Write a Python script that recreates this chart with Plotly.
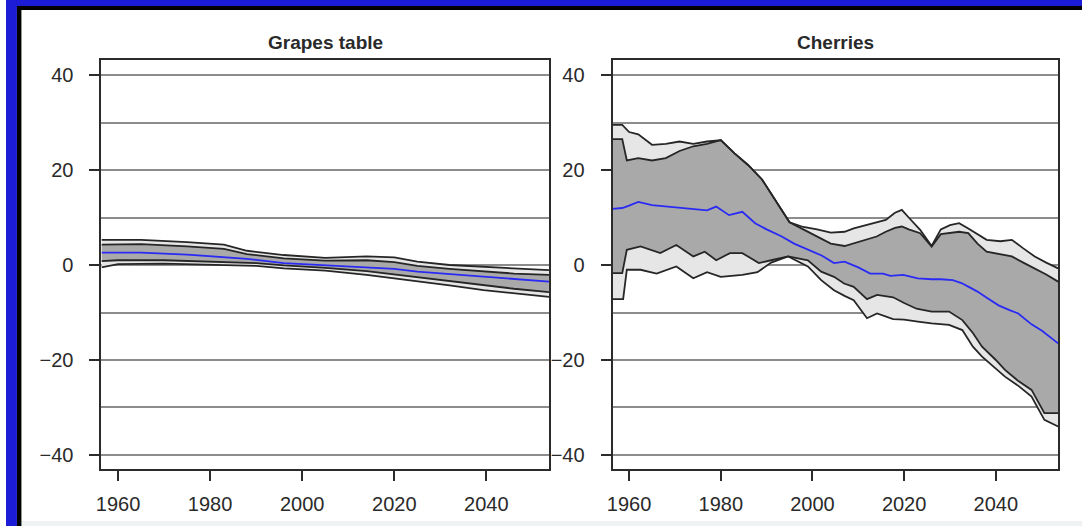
import plotly.graph_objects as go

W, H = 1082, 526

# ---------------- data ----------------
year_ticks = [1960, 1980, 2000, 2020, 2040]
value_ticks = [-40, -20, 0, 20, 40]
panel_titles = ["Grapes table", "Cherries"]

# Grapes table
g_ou_x = [1956.4, 1965, 1975, 1983, 1988, 1996, 2005, 2014, 2020, 2025, 2032, 2039.4, 2046, 2053.6]
g_ou_y = [5.3, 5.3, 4.8, 4.3, 3.0, 2.1, 1.5, 1.8, 1.6, 0.7, 0.0, -0.4, -0.8, -1.1]
g_iu_x = [1956.4, 1965, 1975, 1983, 1988, 1996, 2005, 2014, 2020, 2025, 2032, 2039.4, 2046, 2053.6]
g_iu_y = [4.3, 4.4, 3.9, 3.4, 2.3, 1.4, 0.9, 1.0, 0.6, -0.2, -0.8, -1.3, -1.8, -2.1]
g_c_x = [1956.4, 1965, 1975, 1982, 1988, 1996, 2005, 2014, 2020, 2025, 2032, 2039.4, 2046, 2053.6]
g_c_y = [2.6, 2.6, 2.2, 1.8, 1.3, 0.4, 0.0, -0.4, -0.8, -1.4, -1.9, -2.5, -3.0, -3.5]
g_il_x = [1956.4, 1960, 1970, 1982, 1990, 1996, 2005, 2014, 2020, 2025, 2032, 2039.4, 2046, 2053.6]
g_il_y = [0.8, 1.0, 1.0, 0.7, 0.4, -0.1, -0.6, -1.3, -2.0, -2.6, -3.4, -4.3, -5.0, -5.7]
g_ol_x = [1956.4, 1960, 1970, 1982, 1990, 1996, 2005, 2014, 2020, 2025, 2032, 2039.4, 2046, 2053.6]
g_ol_y = [-0.5, 0.2, 0.3, 0.0, -0.2, -0.7, -1.2, -2.1, -2.8, -3.5, -4.3, -5.3, -6.0, -6.7]

# Cherries
c_ou_x = [1956.4, 1958.5, 1960, 1962, 1965, 1968, 1971, 1974, 1977, 1980, 1983, 1986, 1989, 1992,
          1995, 1998, 2001, 2004, 2007, 2009, 2012, 2014, 2016, 2018, 2019.5, 2021, 2023.5, 2026,
          2028, 2030, 2032, 2034, 2036, 2038, 2041, 2043.5, 2046, 2048.5, 2051, 2053.6]
c_ou_y = [29.5, 29.5, 28.0, 27.5, 25.3, 25.5, 26.0, 25.5, 26.0, 26.3, 23.5, 21.0, 18.0, 13.5,
          9.0, 8.0, 7.5, 6.8, 7.0, 7.7, 8.5, 9.0, 9.5, 11.0, 11.6, 10.0, 7.4, 4.0,
          7.5, 8.4, 8.8, 7.7, 6.5, 5.3, 5.0, 5.3, 3.5, 1.8, 0.5, -0.7]
c_iu_x = [1956.4, 1958.5, 1959.5, 1962, 1965, 1968, 1971, 1974, 1977, 1980, 1983, 1986, 1989, 1992,
          1995, 1998, 2001, 2004, 2007, 2009, 2012, 2014, 2016, 2018, 2019.5, 2021, 2023.5, 2026,
          2028, 2030, 2032, 2034, 2036, 2038, 2041, 2043.5, 2046, 2048.5, 2051, 2053.6]
c_iu_y = [26.5, 26.5, 22.0, 22.5, 22.0, 22.5, 24.0, 25.0, 25.5, 26.3, 23.5, 21.0, 18.0, 13.5,
          9.0, 7.5, 6.0, 4.5, 4.0, 4.6, 5.5, 6.0, 7.0, 7.8, 8.1, 7.5, 6.7, 3.9,
          6.5, 6.7, 7.0, 6.7, 4.5, 2.8, 2.2, 1.8, 0.5, -0.7, -2.0, -3.5]
c_c_x = [1956.4, 1958.5, 1960, 1962, 1965, 1968, 1971, 1974, 1977, 1979, 1981.8, 1984.7, 1987.5, 1990,
         1993.3, 1996, 1999, 2002, 2004.7, 2007, 2010, 2012.6, 2015.4, 2017, 2019.8, 2023, 2026, 2028,
         2030.6, 2032.5, 2034.1, 2036, 2037.7, 2040.6, 2043, 2044.9, 2047.8, 2050, 2053.6]
c_c_y = [11.8, 12.0, 12.5, 13.3, 12.6, 12.3, 12.0, 11.8, 11.5, 12.3, 10.5, 11.2, 8.8, 7.5,
         6.0, 4.5, 3.2, 2.0, 0.4, 0.7, -0.5, -1.8, -1.8, -2.3, -2.1, -2.8, -3.0, -3.0,
         -3.2, -3.8, -4.6, -5.6, -6.7, -8.5, -9.5, -10.2, -12.5, -13.8, -16.5]
c_il_x = [1956.4, 1958.5, 1959.5, 1962.5, 1966.8, 1970.3, 1974, 1976.5, 1979, 1982, 1984.7, 1988.3,
          1991, 1994.7, 1999, 2001.9, 2004.7, 2006.9, 2009, 2011.9, 2014.1, 2017.6, 2020, 2022.7,
          2026, 2029.8, 2032.7, 2035, 2037, 2040, 2042, 2045, 2047.8, 2050.6, 2053.6]
c_il_y = [-1.7, -1.7, 3.2, 3.9, 2.5, 4.2, 1.8, 2.8, 1.0, 2.5, 2.5, 0.4,
          1.0, 1.8, 1.0, -1.4, -2.5, -3.9, -4.6, -7.2, -6.3, -6.8, -8.0, -9.2,
          -9.8, -9.8, -11.6, -14.3, -17.2, -20.0, -22.1, -24.5, -26.3, -31.2, -31.2]
c_ol_x = [1956.4, 1958.7, 1959.5, 1962.5, 1966, 1970.3, 1974, 1977, 1980, 1984.7, 1988, 1991,
          1994.7, 1999, 2001.9, 2004.7, 2007, 2009, 2011.9, 2014.1, 2017.6, 2020, 2023, 2026,
          2029.8, 2032.7, 2035, 2037, 2042, 2045, 2047.8, 2050.6, 2053.6]
c_ol_y = [-7.2, -7.2, -1.0, -1.0, -1.8, -0.3, -2.8, -1.5, -2.5, -2.1, -1.5, 0.5,
          1.8, -0.3, -3.2, -5.3, -6.5, -7.4, -11.2, -10.2, -11.4, -11.5, -11.9, -12.3,
          -12.6, -13.7, -17.2, -19.3, -23.5, -25.5, -27.7, -32.6, -34.0]

# ---------------- styling ----------------
LIGHT = "#e6e6e6"
DARK = "#a9a9a9"
EDGE = "#262626"
BLUE = "#2a2af5"
GRID = "#8c8c8c"
AXC = "#2b2b2b"
FONT = "Liberation Sans"

fig = go.Figure()


def px_x(p):
    return p / W


def px_y(p):
    return 1 - p / H


def add_panel(xa, ya, ou, iu, c, il, ol):
    (oux, ouy), (iux, iuy), (cx, cy), (ilx, ily), (olx, oly) = ou, iu, c, il, ol
    fig.add_trace(go.Scatter(x=list(oux) + list(olx)[::-1], y=list(ouy) + list(oly)[::-1],
                             fill="toself", fillcolor=LIGHT, line=dict(width=0),
                             mode="lines", hoverinfo="skip", showlegend=False, xaxis=xa, yaxis=ya))
    fig.add_trace(go.Scatter(x=list(iux) + list(ilx)[::-1], y=list(iuy) + list(ily)[::-1],
                             fill="toself", fillcolor=DARK, line=dict(width=0),
                             mode="lines", hoverinfo="skip", showlegend=False, xaxis=xa, yaxis=ya))
    for sx, sy in [(oux, ouy), (iux, iuy), (ilx, ily), (olx, oly)]:
        fig.add_trace(go.Scatter(x=sx, y=sy, mode="lines", line=dict(color=EDGE, width=1.8),
                                 showlegend=False, xaxis=xa, yaxis=ya))
    fig.add_trace(go.Scatter(x=cx, y=cy, mode="lines", line=dict(color=BLUE, width=1.8),
                             showlegend=False, xaxis=xa, yaxis=ya))


add_panel("x", "y", (g_ou_x, g_ou_y), (g_iu_x, g_iu_y), (g_c_x, g_c_y), (g_il_x, g_il_y), (g_ol_x, g_ol_y))
add_panel("x2", "y2", (c_ou_x, c_ou_y), (c_iu_x, c_iu_y), (c_c_x, c_c_y), (c_il_x, c_il_y), (c_ol_x, c_ol_y))

xr = [1956.4, 2053.6]
yr = [-42.95, 43.16]
ydom = [px_y(469), px_y(60)]

common_x = dict(range=xr, tickvals=year_ticks, ticktext=[str(v) for v in year_ticks],
                showgrid=False, zeroline=False, showline=True, mirror=True, linewidth=2,
                linecolor=AXC, ticks="outside", ticklen=10, tickwidth=2, tickcolor=AXC,
                tickfont=dict(family=FONT, size=20, color="#2a2a2a"), ticklabelstandoff=6)
common_y = dict(range=yr, domain=ydom, tickvals=value_ticks, ticktext=[str(v).replace("-", "\u2212") for v in value_ticks],
                showgrid=True, gridcolor=GRID, gridwidth=1.6, zeroline=False,
                showline=True, mirror=True, linewidth=2, linecolor=AXC,
                ticks="outside", ticklen=10, tickwidth=2, tickcolor=AXC,
                tickfont=dict(family=FONT, size=20, color="#2a2a2a"), ticklabelstandoff=12,
                minor=dict(dtick=10, tick0=0, showgrid=True, gridcolor=GRID, gridwidth=1.6, ticks=""))

fig.update_layout(
    width=W, height=H,
    margin=dict(l=0, r=0, t=0, b=0),
    paper_bgcolor="white", plot_bgcolor="white",
    xaxis=dict(domain=[px_x(96), px_x(546)], anchor="y", **common_x),
    yaxis=dict(anchor="x", **common_y),
    xaxis2=dict(domain=[px_x(610), px_x(1058)], anchor="y2", **common_x),
    yaxis2=dict(anchor="x2", **common_y),
    showlegend=False,
)

# titles
for cxp, t in zip([321, 834], panel_titles):
    fig.add_annotation(x=px_x(cxp), y=px_y(42), xref="paper", yref="paper", text=t,
                       showarrow=False, xanchor="center", yanchor="middle",
                       font=dict(family=FONT, size=19, color="#2a2a2a", weight="bold"))

# slide frame: blue border and black inner line
shapes = [
    dict(type="rect", xref="paper", yref="paper", x0=0, x1=1, y0=px_y(6), y1=1,
         fillcolor="#1c1cd6", line=dict(width=0), layer="above"),
    dict(type="rect", xref="paper", yref="paper", x0=0, x1=px_x(11), y0=0, y1=1,
         fillcolor="#1c1cd6", line=dict(width=0), layer="above"),
    dict(type="rect", xref="paper", yref="paper", x0=px_x(11), x1=1, y0=px_y(10), y1=px_y(6),
         fillcolor="black", line=dict(width=0), layer="above"),
    dict(type="rect", xref="paper", yref="paper", x0=px_x(11), x1=px_x(15.5), y0=0, y1=px_y(6),
         fillcolor="black", line=dict(width=0), layer="above"),
    dict(type="rect", xref="paper", yref="paper", x0=px_x(15.5), x1=1, y0=0, y1=px_y(521),
         fillcolor="#eef2f2", line=dict(width=0), layer="below"),
]
fig.update_layout(shapes=shapes)

fig.write_html("out.html", config={"displayModeBar": False},
               post_script="document.body.style.margin='0';document.body.style.overflow='hidden';")
